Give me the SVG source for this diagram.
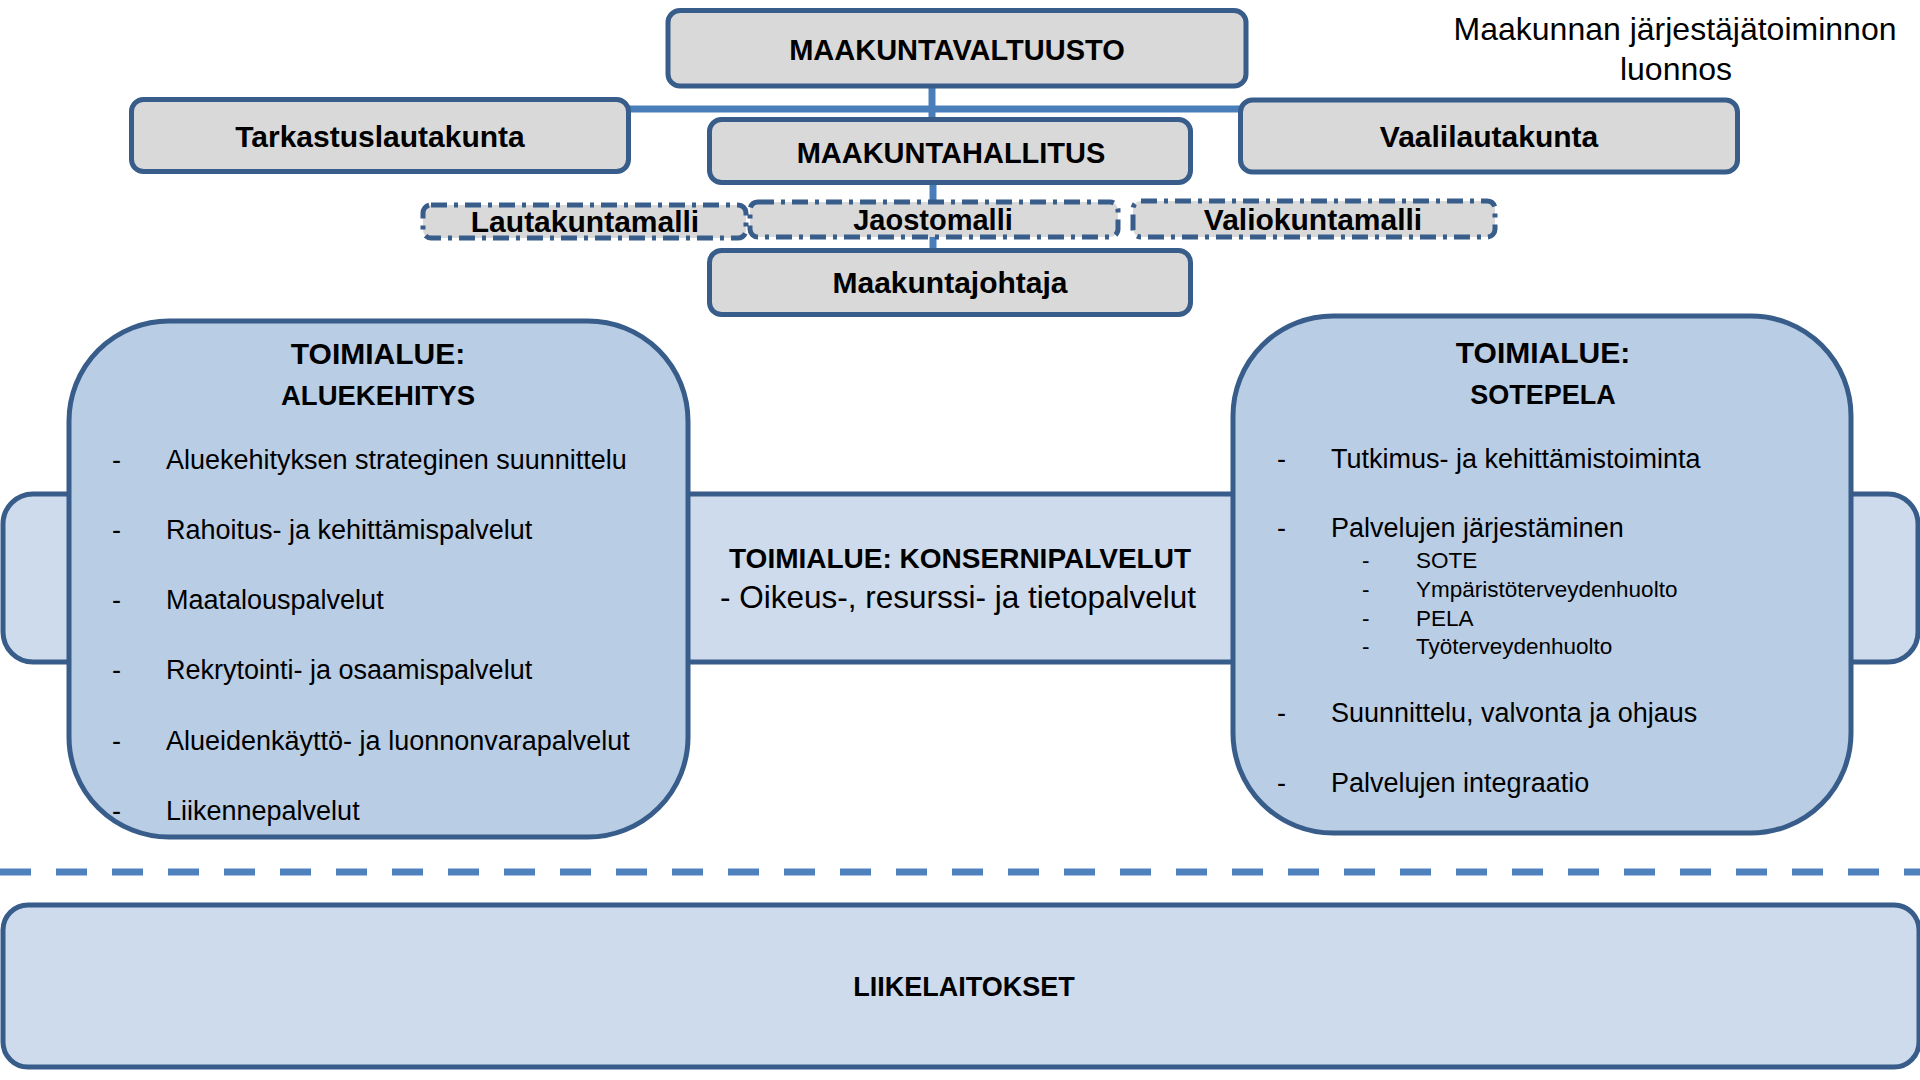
<svg xmlns="http://www.w3.org/2000/svg" width="1920" height="1080" viewBox="0 0 1920 1080">
<style>
text{font-family:"Liberation Sans",Arial,sans-serif;fill:#000}
.b{font-weight:bold}
.c{text-anchor:middle}
.gray{fill:#D9D9D9;stroke:#385D8A;stroke-width:5}
.dash{fill:#D9D9D9;stroke:#385D8A;stroke-width:5;stroke-dasharray:16 7 4 7}
.blue{fill:#B9CDE5;stroke:#385D8A;stroke-width:5}
.pale{fill:#CEDBEC;stroke:#385D8A;stroke-width:5}
.conn{stroke:#4A7EBB;stroke-width:7;fill:none}
.item{font-size:27px}
.sub{font-size:22.5px}
</style>
<rect width="1920" height="1080" fill="#FFFFFF"/>

<g id="title">
<text class="c" x="1675" y="40" font-size="32">Maakunnan järjestäjätoiminnon</text>
<text class="c" x="1676" y="80" font-size="32">luonnos</text>
</g>

<g id="connectors">
<line class="conn" x1="628" y1="109" x2="1242" y2="109"/>
<line class="conn" x1="932" y1="84" x2="932" y2="122"/>
<line class="conn" x1="933" y1="180" x2="933" y2="253"/>
</g>

<g id="maakuntavaltuusto">
<rect class="gray" x="668" y="10.5" width="578" height="75.5" rx="12"/>
<text class="b c" x="957" y="60" font-size="29">MAAKUNTAVALTUUSTO</text>
</g>

<g id="tarkastuslautakunta">
<rect class="gray" x="131.5" y="99.5" width="497" height="72" rx="12"/>
<text class="b c" x="380" y="147" font-size="30">Tarkastuslautakunta</text>
</g>

<g id="vaalilautakunta">
<rect class="gray" x="1240.5" y="100" width="497" height="72" rx="12"/>
<text class="b c" x="1489" y="147" font-size="30">Vaalilautakunta</text>
</g>

<g id="maakuntahallitus">
<rect class="gray" x="709.5" y="119.5" width="481" height="63" rx="12"/>
<text class="b c" x="951" y="163" font-size="29">MAAKUNTAHALLITUS</text>
</g>

<g id="lautakuntamalli">
<rect class="dash" x="423" y="205" width="323" height="33" rx="8"/>
<text class="b c" x="585" y="232" font-size="30">Lautakuntamalli</text>
</g>

<g id="jaostomalli">
<rect class="dash" x="750" y="202" width="368" height="35" rx="8"/>
<text class="b c" x="933" y="230" font-size="29">Jaostomalli</text>
</g>

<g id="valiokuntamalli">
<rect class="dash" x="1133" y="201" width="362" height="36" rx="8"/>
<text class="b c" x="1313" y="230" font-size="30">Valiokuntamalli</text>
</g>

<g id="maakuntajohtaja">
<rect class="gray" x="709.5" y="250.5" width="481" height="64" rx="12"/>
<text class="b c" x="950" y="293" font-size="30">Maakuntajohtaja</text>
</g>

<g id="konsernipalvelut">
<rect class="pale" x="3" y="494" width="1915" height="168" rx="30"/>
<text class="b c" x="960" y="568" font-size="28">TOIMIALUE: KONSERNIPALVELUT</text>
<text class="c" x="958" y="608" font-size="31.5">- Oikeus-, resurssi- ja tietopalvelut</text>
</g>

<g id="aluekehitys">
<rect class="blue" x="69" y="321" width="619" height="516" rx="100"/>
<text class="b c" x="378" y="364" font-size="30">TOIMIALUE:</text>
<text class="b c" x="378" y="405" font-size="27.5">ALUEKEHITYS</text>
<g class="item">
<text x="112" y="469">-</text><text x="166" y="469">Aluekehityksen strateginen suunnittelu</text>
<text x="112" y="539">-</text><text x="166" y="539">Rahoitus- ja kehittämispalvelut</text>
<text x="112" y="609">-</text><text x="166" y="609">Maatalouspalvelut</text>
<text x="112" y="679">-</text><text x="166" y="679">Rekrytointi- ja osaamispalvelut</text>
<text x="112" y="750">-</text><text x="166" y="750">Alueidenkäyttö- ja luonnonvarapalvelut</text>
<text x="112" y="820">-</text><text x="166" y="820">Liikennepalvelut</text>
</g>
</g>

<g id="sotepela">
<rect class="blue" x="1233" y="316" width="618" height="517" rx="100"/>
<text class="b c" x="1543" y="363" font-size="30">TOIMIALUE:</text>
<text class="b c" x="1543" y="404" font-size="27">SOTEPELA</text>
<g class="item">
<text x="1277" y="468">-</text><text x="1331" y="468">Tutkimus- ja kehittämistoiminta</text>
<text x="1277" y="537">-</text><text x="1331" y="537">Palvelujen järjestäminen</text>
<text x="1277" y="722">-</text><text x="1331" y="722">Suunnittelu, valvonta ja ohjaus</text>
<text x="1277" y="792">-</text><text x="1331" y="792">Palvelujen integraatio</text>
</g>
<g class="sub">
<text x="1362" y="568">-</text><text x="1416" y="568">SOTE</text>
<text x="1362" y="597">-</text><text x="1416" y="597">Ympäristöterveydenhuolto</text>
<text x="1362" y="626">-</text><text x="1416" y="626">PELA</text>
<text x="1362" y="654">-</text><text x="1416" y="654">Työterveydenhuolto</text>
</g>
</g>

<g id="divider">
<line x1="0" y1="872" x2="1920" y2="872" stroke="#4F81BD" stroke-width="7" stroke-dasharray="31 25"/>
</g>

<g id="liikelaitokset">
<rect class="pale" x="3" y="905" width="1916" height="162" rx="25"/>
<text class="b c" x="964" y="996" font-size="27">LIIKELAITOKSET</text>
</g>
</svg>
